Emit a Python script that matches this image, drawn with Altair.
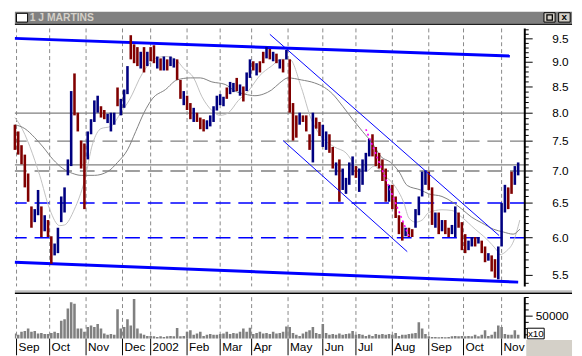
import altair as alt
import pandas as pd

# ---------------- data (sampled every 2nd trading day) ----------------
days = list(range(0, 306, 2))
hi = [7.79, 7.67, 7.43, 7.27, 6.96, 6.45, 6.41, 6.70, 6.45, 6.32,
      6.25, 6.02, 5.92, 6.14, 6.60, 6.74, 7.19, 8.42, 8.77, 8.01,
      7.51, 7.46, 7.67, 7.89, 8.24, 8.33, 8.13, 8.06, 7.99, 8.01,
      8.01, 8.49, 8.27, 8.45, 8.92, 9.58, 9.38, 9.32, 9.22, 9.32,
      9.22, 9.32, 9.36, 9.12, 9.08, 9.12, 9.06, 9.12, 9.08, 9.06,
      8.64, 8.42, 8.33, 8.19, 8.10, 8.01, 7.92, 7.89, 7.87, 7.96,
      8.13, 8.33, 8.36, 8.31, 8.49, 8.60, 8.58, 8.68, 8.55, 8.51,
      8.79, 9.06, 9.02, 8.98, 9.02, 9.22, 9.32, 9.28, 9.22, 9.18,
      9.06, 9.06, 9.26, 9.06, 8.19, 7.96, 8.01, 7.96, 7.96, 7.62,
      8.01, 7.92, 7.84, 7.79, 7.67, 7.62, 7.40, 7.14, 7.19, 7.04,
      6.89, 7.14, 7.24, 7.08, 7.04, 7.19, 7.30, 7.54, 7.62, 7.40,
      7.30, 7.19, 7.04, 6.78, 6.78, 6.60, 6.32, 6.22, 6.14, 6.14,
      6.12, 6.41, 6.60, 6.99, 7.01, 6.99, 6.74, 6.36, 6.36, 6.25,
      6.25, 6.14, 6.18, 6.45, 6.36, 6.22, 6.05, 5.96, 6.01, 6.01,
      6.01, 5.96, 5.88, 5.79, 5.76, 5.71, 5.88, 6.50, 6.78, 6.74,
      6.99, 7.08, 7.14]
lo = [7.35, 7.27, 7.11, 6.74, 6.52, 6.14, 6.22, 6.32, 6.01, 6.09,
      6.01, 5.65, 5.76, 5.79, 6.22, 6.36, 6.93, 7.08, 7.96, 7.67,
      7.04, 6.41, 7.19, 7.62, 7.84, 8.01, 7.92, 7.89, 7.82, 7.67,
      7.79, 8.13, 7.96, 8.10, 8.36, 9.06, 8.98, 8.92, 8.87, 8.79,
      8.92, 9.02, 8.98, 8.87, 8.83, 8.83, 8.83, 8.92, 8.89, 8.64,
      8.27, 8.15, 8.06, 7.89, 7.84, 7.84, 7.71, 7.67, 7.71, 7.76,
      7.84, 8.05, 8.15, 8.13, 8.27, 8.36, 8.40, 8.42, 8.33, 8.22,
      8.42, 8.68, 8.83, 8.73, 8.79, 8.98, 9.08, 9.06, 9.02, 8.98,
      8.87, 8.79, 9.06, 8.01, 7.51, 7.56, 7.79, 7.84, 7.67, 7.35,
      7.14, 7.72, 7.59, 7.40, 7.35, 7.30, 7.04, 6.93, 6.52, 6.70,
      6.64, 6.78, 6.93, 6.89, 6.67, 6.78, 6.99, 7.24, 7.24, 7.08,
      7.04, 6.84, 6.52, 6.52, 6.41, 6.28, 6.05, 5.96, 6.02, 6.01,
      6.01, 6.14, 6.32, 6.60, 6.78, 6.70, 6.18, 6.14, 6.05, 6.09,
      6.05, 6.01, 6.05, 6.01, 6.14, 5.83, 5.79, 5.83, 5.88, 5.88,
      5.92, 5.79, 5.67, 5.69, 5.55, 5.47, 5.45, 5.88, 6.36, 6.41,
      6.64, 6.78, 6.93]
direction = list("dddddduudu" "dduuuuuudd" "dduuuudduu" "uduuudddud" "uddududuud"
                 "dudduddduu" "uuuuduudud" "uududdudud" "ududdduddd" "udduuddudu"
                 "uuuduuuudd" "ddduddddud" "duuuuddudu" "dduuddduud" "uddudduuud"
                 "duu")
volume = [22000, 20000, 25000, 26000, 30000, 25000, 26000, 22000, 23000, 21500,
          21500, 23000, 25000, 23000, 42500, 45000, 62500, 72500, 70000, 30000,
          30000, 25000, 32500, 35000, 32500, 37500, 30000, 22000, 20000, 21500,
          20000, 61000, 30000, 32500, 45000, 35000, 77500, 30000, 22000, 20000,
          18000, 18000, 17500, 16500, 17500, 16500, 17500, 18000, 17500, 31000,
          17500, 18000, 25000, 27500, 20000, 22000, 25000, 18000, 20000, 21500,
          20000, 20000, 21500, 22000, 25000, 21500, 23000, 22000, 25000, 30000,
          25000, 31500, 21500, 23000, 25000, 22000, 23000, 21500, 25000, 22000,
          23000, 25000, 33500, 32500, 23000, 20000, 18000, 22000, 25000, 27500,
          32500, 23000, 21500, 37500, 23000, 20000, 21500, 20000, 22000, 20000,
          21500, 22000, 26000, 20000, 21500, 20000, 18000, 20000, 18000, 21500,
          20000, 21500, 20000, 21500, 20000, 23000, 18000, 20000, 20000, 21500,
          22000, 23000, 40000, 30000, 21500, 17500, 16500, 16500, 16000, 16500,
          16000, 16500, 17500, 18000, 17500, 18000, 17500, 18000, 17500, 20000,
          17500, 20000, 27500, 18000, 20000, 25000, 35000, 32500, 21500, 20000,
          20000, 27500, 20000]

ma_short_day = [0, 3, 15, 21, 27, 30, 36, 42, 47, 52, 58, 64, 69, 77, 85, 91, 97, 102, 108, 113,
                119, 124, 129, 135, 141, 148, 155, 161, 166, 173, 179, 184, 193, 200, 206, 212, 217,
                223, 229, 235, 238, 242, 246, 250, 258, 264, 270, 278, 285, 291, 293, 297, 301, 305]
ma_short = [7.92, 7.79, 6.93, 6.41, 6.17, 6.18, 6.41, 6.84, 7.46, 7.72, 7.76, 8.01, 8.24, 8.77,
            9.08, 9.12, 9.06, 8.87, 8.68, 8.31, 8.05, 7.96, 8.01, 8.24, 8.42, 8.73, 8.92, 9.06,
            9.06, 8.49, 7.89, 7.62, 7.40, 7.30, 7.08, 6.99, 7.08, 6.93, 6.78, 6.50, 6.28, 6.22,
            6.25, 6.36, 6.40, 6.39, 6.29, 6.12, 5.98, 5.83, 5.77, 5.82, 5.94, 6.25]
ma_long_day = [0, 6, 12, 17, 23, 29, 35, 40, 48, 56, 62, 68, 73, 78, 83, 91, 98, 106, 112, 119,
               127, 133, 139, 145, 150, 155, 160, 165, 173, 181, 187, 192, 198, 204, 210, 216,
               221, 227, 232, 237, 245, 250, 258, 264, 270, 276, 282, 289, 295, 301, 305]
ma_long = [7.79, 7.72, 7.56, 7.40, 7.19, 7.04, 6.96, 6.93, 6.93, 6.99, 7.14, 7.35, 7.67, 8.01,
           8.27, 8.45, 8.64, 8.68, 8.68, 8.60, 8.55, 8.42, 8.36, 8.33, 8.36, 8.44, 8.58, 8.68,
           8.64, 8.58, 8.49, 8.36, 8.13, 7.89, 7.67, 7.46, 7.24, 7.14, 6.99, 6.77, 6.70, 6.64,
           6.60, 6.52, 6.41, 6.29, 6.21, 6.12, 6.08, 6.05, 6.12]

month_days = [1, 21, 43, 65, 82, 104, 124, 143, 165, 186, 206, 228, 250, 271, 294]
month_labels = ["Sep", "Oct", "Nov", "Dec", "2002", "Feb", "Mar", "Apr", "May", "Jun",
                "Jul", "Aug", "Sep", "Oct", "Nov"]

price_major = [5.5, 6.0, 6.5, 7.0, 7.5, 8.0, 8.5, 9.0, 9.5]
price_minor = [5.4, 5.6, 5.7, 5.8, 5.9, 6.1, 6.2, 6.3, 6.4, 6.6, 6.7, 6.8, 6.9, 7.1, 7.2, 7.3,
               7.4, 7.6, 7.7, 7.8, 7.9, 8.1, 8.2, 8.3, 8.4, 8.6, 8.7, 8.8, 8.9, 9.1, 9.2, 9.3,
               9.4, 9.6, 9.7]
vol_major = [50000]
vol_minor = [20000, 30000, 40000, 60000, 70000, 80000]

levels_solid = [8.0, 7.1]
levels_gray_dash = [7.5, 7.0]
levels_blue_dash = [6.5, 6.0]

thick_id = ["top", "top", "bottom", "bottom"]
thick_day = [0, 299, 0, 304]
thick_price = [9.51, 9.13, 5.67, 5.415]
thin_id = ["upper", "upper", "lower", "lower"]
thin_day = [154, 292.5, 162, 237]
thin_price = [9.60, 6.03, 7.51, 5.81]
dot_day = [212, 238]
dot_price = [7.71, 6.02]

title_text = "1 J MARTINS"

# ---------------- chart ----------------
FONT = "Liberation Sans"
W, HP, HV, FW = 518, 262, 42, 566
LBL_X = W + 44.5

xs = alt.Scale(domain=[0, 308], nice=False, zero=False, padding=0)
ps = alt.Scale(type="log", domain=[5.362, 9.73], nice=False, zero=False)
vs = alt.Scale(domain=[14000, 80450], nice=False, zero=False)

bars_df = pd.DataFrame({"day": days, "hi": hi, "lo": lo, "dir": direction})
vol_df = pd.DataFrame({"day": days, "vol": volume})
short_df = pd.DataFrame({"day": ma_short_day, "price": ma_short})
long_df = pd.DataFrame({"day": ma_long_day, "price": ma_long})
thick_df = pd.DataFrame({"id": thick_id, "day": thick_day, "price": thick_price})
thin_df = pd.DataFrame({"id": thin_id, "day": thin_day, "price": thin_price})
dot_df = pd.DataFrame({"day": dot_day, "price": dot_price})
month_df = pd.DataFrame({"day": month_days, "label": month_labels})
one = pd.DataFrame({"t": [title_text]})

xn = alt.X("day:Q", scale=xs, axis=None)
yn = alt.Y("price:Q", scale=ps, axis=None)


def hlines(levels, color, dash=None, width=1.3):
    kw = dict(color=color, strokeWidth=width)
    if dash:
        kw["strokeDash"] = dash
    return alt.Chart(pd.DataFrame({"lvl": levels})).mark_rule(**kw).encode(
        y=alt.Y("lvl:Q", scale=ps, axis=None))


def box(x1, x2, y1, y2, **kw):
    return alt.Chart(one).mark_rect(**kw).encode(
        x=alt.value(x1), x2=alt.value(x2), y=alt.value(y1), y2=alt.value(y2))


def vgrid():
    return alt.Chart(month_df).mark_rule(color="#888888", strokeWidth=1, strokeDash=[4, 3]).encode(x=xn)


def yaxis(values_major, values_minor, scale, fmt, height):
    dom = alt.Chart(one).mark_rule(color="black", strokeWidth=2).encode(
        x=alt.value(W), y=alt.value(0), y2=alt.value(height))
    major = alt.Chart(pd.DataFrame({"tv": values_major})).mark_rule(color="black", strokeWidth=1).encode(
        y=alt.Y("tv:Q", scale=scale, axis=None), x=alt.value(W), x2=alt.value(W + 8))
    minor = alt.Chart(pd.DataFrame({"tv": values_minor})).mark_rule(color="black", strokeWidth=1).encode(
        y=alt.Y("tv:Q", scale=scale, axis=None), x=alt.value(W), x2=alt.value(W + 4))
    labels = alt.Chart(pd.DataFrame({"tv": values_major})).mark_text(
        align="right", baseline="middle", font=FONT, fontSize=12, color="black").encode(
        y=alt.Y("tv:Q", scale=scale, axis=None), x=alt.value(LBL_X),
        text=alt.Text("tv:Q", format=fmt))
    return [dom, major, minor, labels]


solid_l = hlines(levels_solid, "#808080")
gdash_l = hlines(levels_gray_dash, "#808080", [15, 8])
bdash_l = hlines(levels_blue_dash, "#0000ff", [15, 8], 1.5)

short_line = alt.Chart(short_df).mark_line(color="#c0c0c0", strokeWidth=1, interpolate="monotone").encode(x=xn, y=yn)
long_line = alt.Chart(long_df).mark_line(color="#808080", strokeWidth=1, interpolate="monotone").encode(x=xn, y=yn)

thick_lines = alt.Chart(thick_df).mark_line(color="#0000ff", strokeWidth=3).encode(x=xn, y=yn, detail="id:N")
thin_lines = alt.Chart(thin_df).mark_line(color="#0000ff", strokeWidth=1).encode(x=xn, y=yn, detail="id:N")
dot_line = alt.Chart(dot_df).mark_line(color="#ff00ff", strokeWidth=1.6, strokeDash=[2, 3]).encode(x=xn, y=yn)

price_bars = alt.Chart(bars_df).mark_rule(strokeWidth=2.6).encode(
    x=xn,
    y=alt.Y("hi:Q", scale=ps, axis=None),
    y2="lo:Q",
    color=alt.Color("dir:N", scale=alt.Scale(domain=["u", "d"], range=["#000080", "#800000"]), legend=None))

price_panel = alt.layer(
    vgrid(), solid_l, gdash_l, bdash_l, short_line, long_line, thick_lines, price_bars,
    thin_lines, dot_line, *yaxis(price_major, price_minor, ps, ".1f", HP)
).properties(width=W, height=HP)

# ---- title bar ----
title_panel = alt.layer(
    box(0, FW, 0, 12, color="#808080"),
    alt.Chart(one).mark_rule(color="#202020", strokeWidth=1.5).encode(
        x=alt.value(0), x2=alt.value(FW), y=alt.value(12.8)),
    box(1.6, 12.9, 1.6, 10.5, fill="white", stroke="black", strokeWidth=1),
    alt.Chart(one).mark_text(align="left", baseline="alphabetic", font=FONT, fontSize=10.5,
                             fontWeight="bold", color="#d4d0c8").encode(
        text="t:N", x=alt.value(15), y=alt.value(9.8)),
    box(537.5, 548.8, 1, 10.5, fill="#d4d0c8", stroke="black", strokeWidth=1),
    box(540.5, 546, 3.2, 8.5, fill="none", stroke="black", strokeWidth=1.3),
    box(552.4, 564.1, 1, 10.5, fill="#d4d0c8", stroke="black", strokeWidth=1),
    alt.Chart(one).mark_text(align="center", baseline="middle", font=FONT, fontSize=10,
                             fontWeight="bold", color="black", text="x").encode(
        x=alt.value(558.2), y=alt.value(5.4)),
).properties(width=FW, height=14)

# ---- separator ----
sep_panel = alt.layer(
    alt.Chart(one).mark_rule(color="#c0c0c0", strokeWidth=1.6).encode(
        x=alt.value(0), x2=alt.value(FW), y=alt.value(0.8)),
    alt.Chart(one).mark_rule(color="black", strokeWidth=1.5).encode(
        x=alt.value(0), x2=alt.value(FW), y=alt.value(2.9)),
).properties(width=FW, height=4)

# ---- volume ----
vol_bars = alt.Chart(vol_df).mark_bar(color="#808080", width=2.6, clip=True).encode(
    x=xn, y=alt.Y("vol:Q", scale=vs, axis=None))

month_ticks = alt.Chart(month_df).mark_rule(color="black", strokeWidth=1).encode(
    x=xn, y=alt.value(HV), y2=alt.value(HV + 17))
month_text = alt.Chart(month_df).mark_text(
    align="left", baseline="top", font=FONT, fontSize=12, color="black", dx=2).encode(
    x=xn, y=alt.value(HV + 4), text="label:N")

vol_panel = alt.layer(
    vgrid(),
    vol_bars,
    *yaxis(vol_major, vol_minor, vs, "d", HV),
    box(520.6, 537.7, 31.5, 42.3, fill="white", stroke="black", strokeWidth=1),
    alt.Chart(one).mark_text(align="center", baseline="middle", font=FONT, fontSize=10,
                             color="black", text="x10").encode(
        x=alt.value(529.2), y=alt.value(37.2)),
    box(519.5, FW, 43.5, 61, color="#d4d0c8"),
    month_ticks,
    month_text,
).properties(width=W, height=HV)

chart = alt.vconcat(title_panel, price_panel, sep_panel, vol_panel, spacing=0,
                    padding=0, background="white").configure_view(stroke="transparent")

chart.save("out.html", embed_options={"renderer": "svg", "actions": False})
